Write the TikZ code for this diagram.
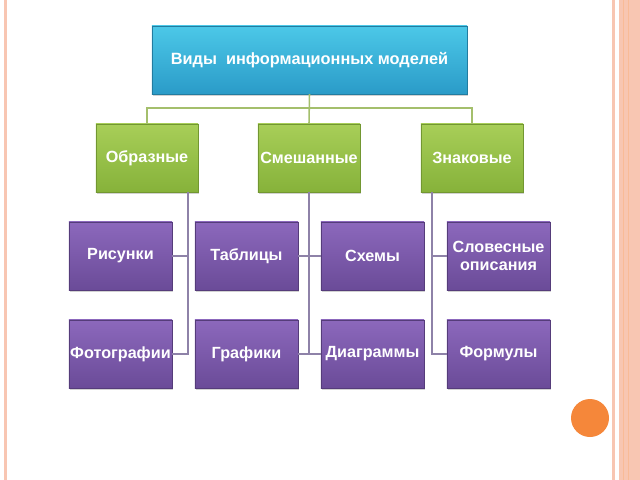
\documentclass[tikz,border=0pt]{standalone}
\usepackage{fontspec}
\setmainfont{Liberation Sans}
\usepackage{tikz}
\usetikzlibrary{shadows,calc}
\usetikzlibrary{positioning}
\definecolor{colorTopA}{HTML}{4CC8E8}
\definecolor{colorTopB}{HTML}{2A9BC8}
\definecolor{colorGreenA}{HTML}{A8CE58}
\definecolor{colorGreenB}{HTML}{86B23A}
\definecolor{colorPurpleA}{HTML}{8C68BC}
\definecolor{colorPurpleB}{HTML}{6A4B98}
\definecolor{colorGreenLine}{HTML}{A4BF6C}
\definecolor{colorPurpleLine}{HTML}{8E82A8}
\definecolor{colorPeach}{HTML}{F8C6B2}
\definecolor{colorOrange}{HTML}{F5873A}
\tikzset{
    box/.style={rectangle, text=white, align=center, inner sep=1pt,
        font=\bfseries\fontsize{11.5}{13}\selectfont, minimum height=1.7cm,
        drop shadow={shadow xshift=0.6pt, shadow yshift=-1.6pt, opacity=0.35}},
    topbox/.style={box, minimum width=7.875cm, top color=colorTopA, bottom color=colorTopB,
        draw=colorTopB!80!black, line width=0.3pt, font=\bfseries\fontsize{11.6}{14}\selectfont},
    kindbox/.style={box, minimum width=2.55cm, top color=colorGreenA, bottom color=colorGreenB,
        draw=colorGreenB!85!black, line width=0.3pt},
    itembox/.style={box, minimum width=2.575cm, top color=colorPurpleA, bottom color=colorPurpleB,
        draw=colorPurpleB!80!black, line width=0.3pt},
    greenline/.style={draw=colorGreenLine, line width=1.1pt},
    purpleline/.style={draw=colorPurpleLine, line width=1.1pt}
}
\begin{document}
\begin{tikzpicture}[x=0.025cm, y=-0.025cm]
    \useasboundingbox[fill=white] (0,0) rectangle (640,480);
    % slide border
    \fill[colorPeach] (4,0) rectangle (6.5,480);
    \fill[colorPeach] (611.5,0) rectangle (614.5,480);
    \fill[colorPeach] (619,0) rectangle (640,480);
    \draw[colorPeach!85!orange, line width=0.6pt] (623,0) -- (623,480);
    \draw[colorPeach!85!orange, line width=0.6pt] (628,0) -- (628,480);
    \fill[colorOrange] (590,418) circle (19);

    \node[topbox] (top) at (309.5,60) {Виды\ \ информационных моделей};

    \node[kindbox] (obr) at (147,158) {Образные};
    \node[kindbox] (sme) at (309,158) {Смешанные};
    \node[kindbox] (zna) at (472,158) {Знаковые};

    \node[itembox] (ris) at (120.5,256) {Рисунки};
    \node[itembox] (tab) at (246.5,256) {Таблицы};
    \node[itembox] (sxe) at (372.5,256) {Схемы};
    \node[itembox] (slo) at (498.5,256) {Словесные\\описания};

    \node[itembox] (fot) at (120.5,354) {Фотографии};
    \node[itembox] (gra) at (246.5,354) {Графики};
    \node[itembox] (dia) at (372.5,354) {Диаграммы};
    \node[itembox] (for) at (498.5,354) {Формулы};

    \draw[greenline] (top.south) -- ++(0,14) -| (obr.north);
    \draw[greenline] (top.south) -- ++(0,14) -| (zna.north);
    \draw[greenline] (top.south) -- (sme.north);

    \draw[purpleline] ([xshift=-0.25cm]obr.south east) |- (ris.east);
    \draw[purpleline] ([xshift=-0.25cm]obr.south east) |- (fot.east);
    \draw[purpleline] (sme.south) |- (tab.east);
    \draw[purpleline] (sme.south) |- (sxe.west);
    \draw[purpleline] (sme.south) |- (gra.east);
    \draw[purpleline] (sme.south) |- (dia.west);
    \draw[purpleline] ([xshift=0.275cm]zna.south west) |- (slo.west);
    \draw[purpleline] ([xshift=0.275cm]zna.south west) |- (for.west);
\end{tikzpicture}
\end{document}
